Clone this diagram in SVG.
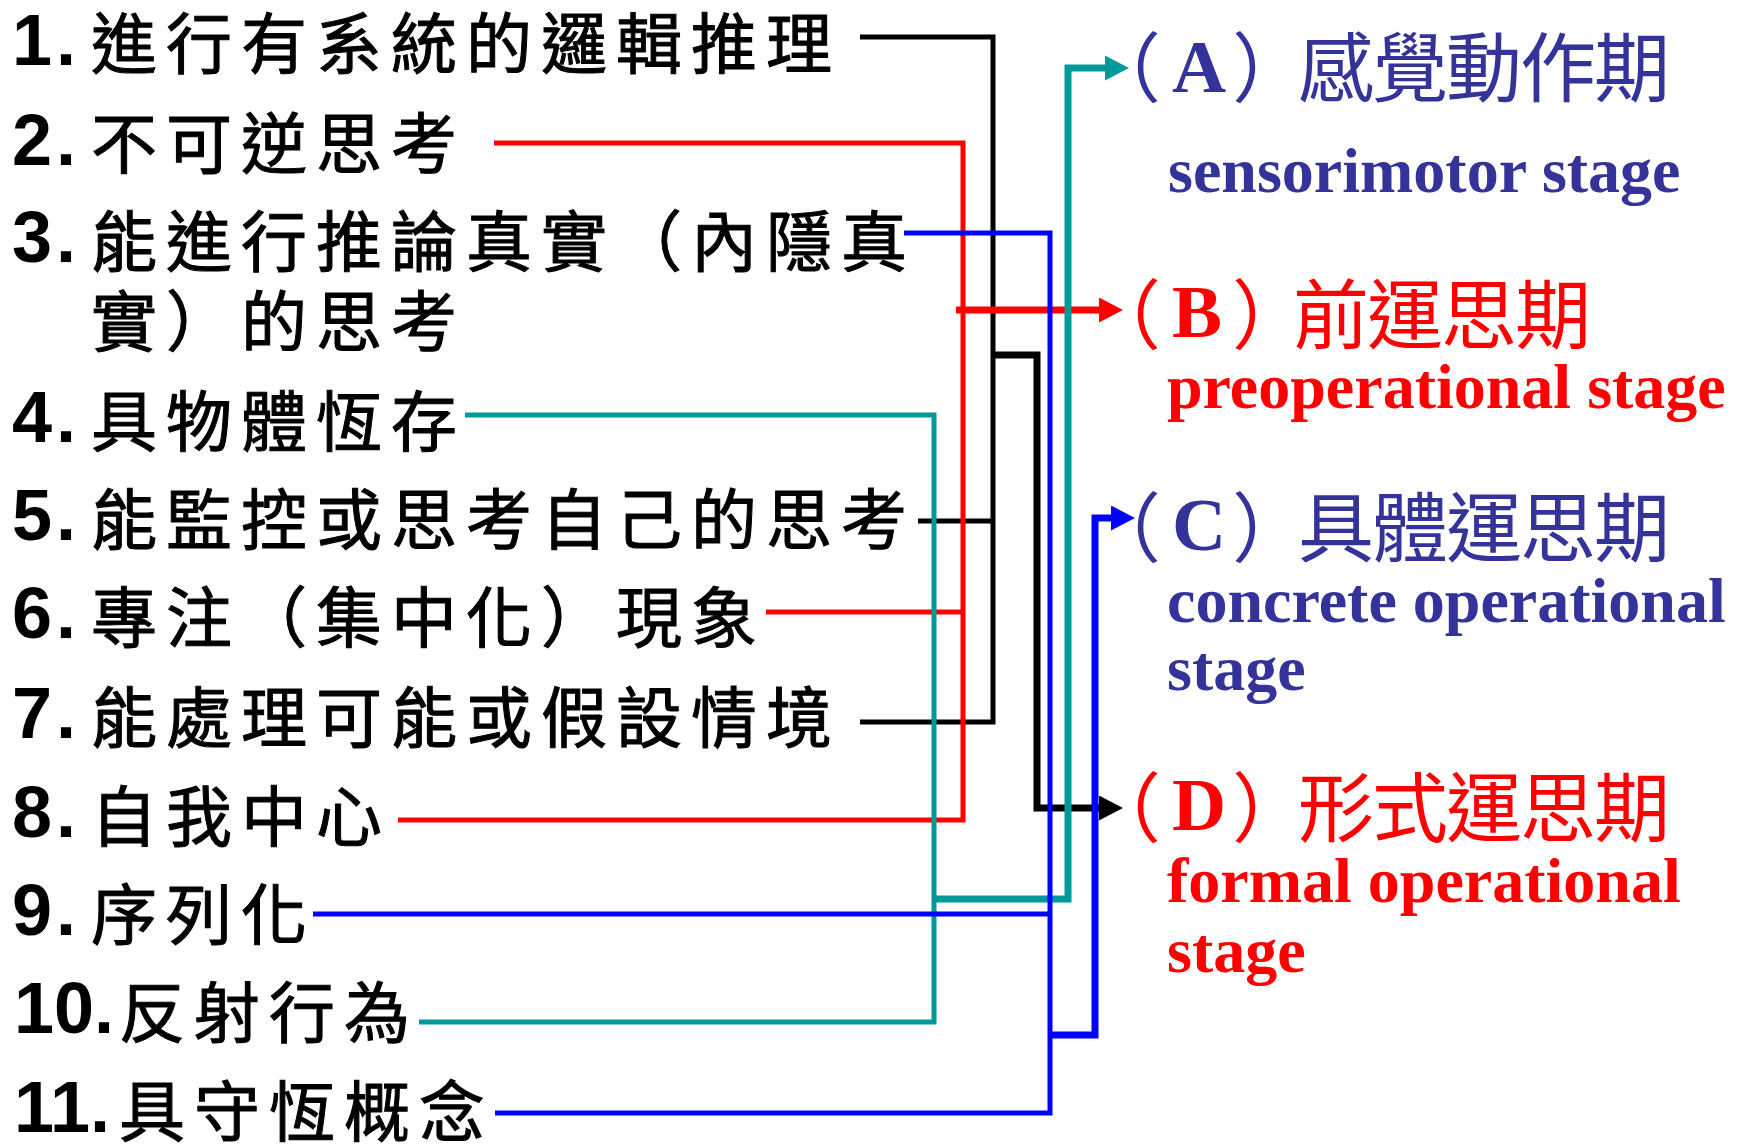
<svg xmlns="http://www.w3.org/2000/svg" width="1739" height="1145" viewBox="0 0 1739 1145">
<style>
.num{font-family:"Liberation Sans",Arial,sans-serif;font-weight:bold;font-size:72px;fill:#000}
.item{font-family:"Noto Sans CJK TC","Noto Sans CJK SC",sans-serif;font-size:66px;letter-spacing:9px;fill:#000;stroke:#000;stroke-width:1}
.ttl{font-family:"Noto Sans CJK TC","Noto Sans CJK SC",sans-serif;font-size:76px;letter-spacing:-2px}
.let{font-family:"Liberation Serif","Times New Roman",serif;font-weight:bold;font-size:75px;letter-spacing:0}
.sub{font-family:"Liberation Serif","Times New Roman",serif;font-weight:bold;font-size:64px}
.navy{fill:#333399}
.red{fill:#FF0000}
.ln{fill:none;stroke-width:5;stroke-linejoin:miter}
.ar{fill:none;stroke-width:7;stroke-linejoin:miter}
.k{stroke:#000}
.r{stroke:#FF0000}
.t{stroke:#009999}
.b{stroke:#0000FF}
</style>
<defs>
<marker id="ahK" markerUnits="userSpaceOnUse" markerWidth="24" markerHeight="25" viewBox="0 0 24 25" refX="0" refY="12.5" orient="auto"><path d="M0,0 L24,12.5 L0,25 z" fill="#000"/></marker>
<marker id="ahR" markerUnits="userSpaceOnUse" markerWidth="24" markerHeight="25" viewBox="0 0 24 25" refX="0" refY="12.5" orient="auto"><path d="M0,0 L24,12.5 L0,25 z" fill="#FF0000"/></marker>
<marker id="ahT" markerUnits="userSpaceOnUse" markerWidth="24" markerHeight="25" viewBox="0 0 24 25" refX="0" refY="12.5" orient="auto"><path d="M0,0 L24,12.5 L0,25 z" fill="#009999"/></marker>
<marker id="ahB" markerUnits="userSpaceOnUse" markerWidth="24" markerHeight="25" viewBox="0 0 24 25" refX="0" refY="12.5" orient="auto"><path d="M0,0 L24,12.5 L0,25 z" fill="#0000FF"/></marker>
</defs>
<rect width="1739" height="1145" fill="#fff"/>

<g id="item1"><text class="num" x="12" y="65" letter-spacing="4">1.</text><text class="item" x="91" y="68">進行有系統的邏輯推理</text></g>
<g id="item2"><text class="num" x="12" y="165" letter-spacing="4">2.</text><text class="item" x="91" y="168">不可逆思考</text></g>
<g id="item3"><text class="num" x="12" y="262" letter-spacing="4">3.</text><text class="item" x="91" y="266">能進行推論真實（內隱真</text><text class="item" x="91" y="346">實）的思考</text></g>
<g id="item4"><text class="num" x="12" y="442" letter-spacing="4">4.</text><text class="item" x="91" y="446">具物體恆存</text></g>
<g id="item5"><text class="num" x="12" y="540" letter-spacing="4">5.</text><text class="item" x="91" y="544">能監控或思考自己的思考</text></g>
<g id="item6"><text class="num" x="12" y="638" letter-spacing="4">6.</text><text class="item" x="91" y="642">專注（集中化）現象</text></g>
<g id="item7"><text class="num" x="12" y="738" letter-spacing="4">7.</text><text class="item" x="91" y="742">能處理可能或假設情境</text></g>
<g id="item8"><text class="num" x="12" y="837" letter-spacing="4">8.</text><text class="item" x="91" y="841">自我中心</text></g>
<g id="item9"><text class="num" x="12" y="935" letter-spacing="4">9.</text><text class="item" x="91" y="939">序列化</text></g>
<g id="item10"><text class="num" x="14" y="1033">10.</text><text class="item" x="119" y="1037">反射行為</text></g>
<g id="item11"><text class="num" x="14" y="1132">11.</text><text class="item" x="119" y="1136">具守恆概念</text></g>

<g id="stageA" class="navy">
<text class="ttl" y="96"><tspan x="1085">（</tspan><tspan class="let" x="1172" y="92">A</tspan><tspan x="1232" y="96">）</tspan><tspan x="1298">感覺動作期</tspan></text>
<text class="sub" x="1168" y="192">sensorimotor stage</text>
</g>
<g id="stageB" class="red">
<text class="ttl" y="343"><tspan x="1085">（</tspan><tspan class="let" x="1172" y="337">B</tspan><tspan x="1232" y="343">）</tspan><tspan x="1293">前運思期</tspan></text>
<text class="sub" x="1167" y="408">preoperational stage</text>
</g>
<g id="stageC" class="navy">
<text class="ttl" y="556"><tspan x="1085">（</tspan><tspan class="let" x="1172" y="550">C</tspan><tspan x="1232" y="556">）</tspan><tspan x="1298">具體運思期</tspan></text>
<text class="sub" x="1167" y="622">concrete operational</text>
<text class="sub" x="1167" y="690">stage</text>
</g>
<g id="stageD" class="red">
<text class="ttl" y="836"><tspan x="1085">（</tspan><tspan class="let" x="1172" y="830">D</tspan><tspan x="1232" y="836">）</tspan><tspan x="1298">形式運思期</tspan></text>
<text class="sub" x="1167" y="902">formal operational</text>
<text class="sub" x="1167" y="972">stage</text>
</g>

<g id="connectors">
<path class="ln k" d="M860,37 H993 V722 H860 M918,521 H993"/>
<path class="ar k" d="M993,355 H1037 V808 H1099" marker-end="url(#ahK)"/>
<path class="ln r" d="M494,143 H963 V820 H398 M766,612 H963"/>
<path class="ar r" d="M956,310 H1099" marker-end="url(#ahR)"/>
<path class="ln t" d="M465,415 H934 V1022 H419"/>
<path class="ar t" d="M934,899 H1068 V68 H1105" marker-end="url(#ahT)"/>
<path class="ln b" d="M904,233 H1050 V1113 H495 M313,914 H1050"/>
<path class="ar b" d="M1050,1035 H1095 V518 H1111" marker-end="url(#ahB)"/>
</g>
</svg>
